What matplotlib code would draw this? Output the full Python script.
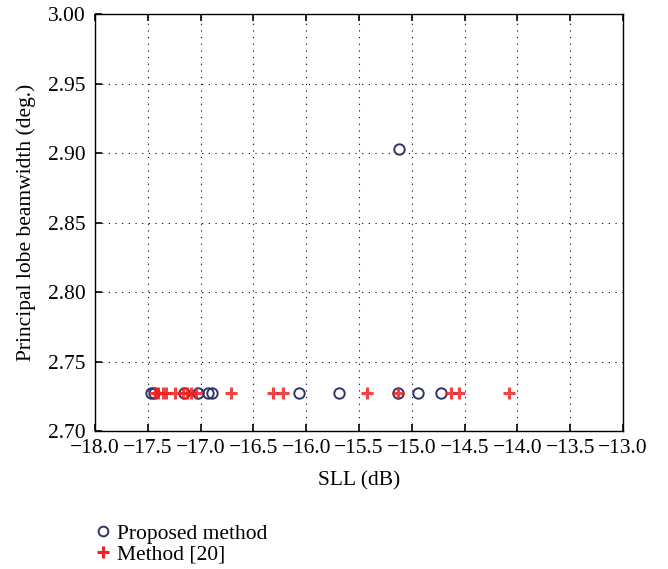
import matplotlib
matplotlib.use("Agg")
import matplotlib.pyplot as plt
from matplotlib.lines import Line2D

plt.rcParams['font.family'] = ['Liberation Serif', 'DejaVu Serif']
plt.rcParams['mathtext.fontset'] = 'stix'

# Data
proposed_sll = [-17.47, -17.44, -17.16, -17.02, -16.93, -16.89, -16.07, -15.69,
                -15.13, -14.94, -14.72, -15.12]
proposed_bw = [2.727, 2.727, 2.727, 2.727, 2.727, 2.727, 2.727, 2.727,
               2.727, 2.727, 2.727, 2.903]
method20_sll = [-17.43, -17.40, -17.36, -17.33, -17.24, -17.17, -17.13, -17.09,
                -17.04, -16.71, -16.31, -16.22, -15.42, -15.13, -14.63, -14.55, -14.08]
method20_bw = [2.727] * len(method20_sll)

xticks = [-18.0, -17.5, -17.0, -16.5, -16.0, -15.5, -15.0, -14.5, -14.0, -13.5, -13.0]
yticks = [2.70, 2.75, 2.80, 2.85, 2.90, 2.95, 3.00]

fig = plt.figure(figsize=(6.68, 5.69), dpi=100)
ax = fig.add_axes([0.1422, 0.2425, 0.7904, 0.7329])

circ_color = '#2e3566'
plus_color = '#ee2222'
fs = 15.5

ax.plot(proposed_sll, proposed_bw, linestyle='none', marker='o', markersize=7.5,
        markerfacecolor='none', markeredgecolor=circ_color, markeredgewidth=1.4,
        label='Proposed method')
ax.plot(method20_sll, method20_bw, linestyle='none', marker='+', markersize=8,
        color=plus_color, markeredgewidth=2.2, label='Method [20]', alpha=0.85)

ax.set_xlim(-18.0, -13.0)
ax.set_ylim(2.70, 3.00)
ax.set_xticks(xticks)
ax.set_yticks(yticks)
ax.set_xticklabels([f"\u2212{abs(t):.1f}" for t in xticks])
ax.set_yticklabels([f"{t:.2f}" for t in yticks])
ax.tick_params(direction='in', top=True, right=False, labelsize=fs, length=5,
               width=1.2)
ax.tick_params(axis='x', pad=6)
ax.tick_params(axis='y', pad=7)
for s in ax.spines.values():
    s.set_linewidth(1.0)
ax.grid(True, color='black', linestyle=(0, (1, 5)), linewidth=0.8)

ax.set_xlabel('SLL (dB)', fontsize=fs, labelpad=9)
ax.set_ylabel('Principal lobe beamwidth (deg.)', fontsize=fs, labelpad=8)

handles = [Line2D([], [], linestyle='none', marker='o', markersize=7,
                  markerfacecolor='none', markeredgecolor=circ_color, markeredgewidth=1.4),
           Line2D([], [], linestyle='none', marker='+', markersize=8,
                  color=plus_color, markeredgewidth=2.2)]
fig.legend(handles, ['Proposed method', 'Method [20]'], loc='upper left',
           bbox_to_anchor=(0.125, 0.095), frameon=False, fontsize=fs,
           handletextpad=0.15, labelspacing=0.05, handlelength=1.0,
           borderaxespad=0)

fig.savefig('out.png', dpi=100)
